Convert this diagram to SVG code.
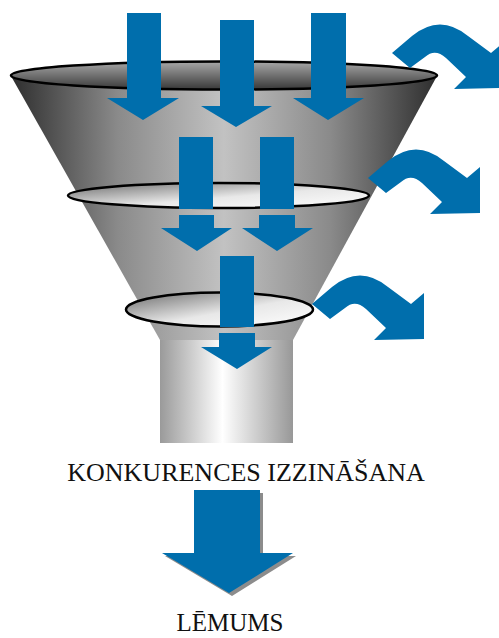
<svg xmlns="http://www.w3.org/2000/svg" width="499" height="638" viewBox="0 0 499 638">
  <style>
    .flow { fill: #006EAC; }
    .shadow { fill: #8c8c8c; }
    .rim { stroke: #000; stroke-width: 2.5; }
    .label { font-family: "Liberation Serif", "Times New Roman", serif; font-size: 26px; fill: #111; text-anchor: middle; }
  </style>
  <defs>
    <linearGradient id="coneGrad" x1="0" y1="0" x2="1" y2="0">
      <stop offset="0" stop-color="#2e2e2e"/>
      <stop offset="0.25" stop-color="#8a8a8a"/>
      <stop offset="0.5" stop-color="#c2c2c2"/>
      <stop offset="0.75" stop-color="#8a8a8a"/>
      <stop offset="1" stop-color="#2e2e2e"/>
    </linearGradient>
    <linearGradient id="topRimGrad" x1="0" y1="0" x2="0" y2="1">
      <stop offset="0" stop-color="#a8a8a8"/>
      <stop offset="1" stop-color="#383838"/>
    </linearGradient>
    <linearGradient id="ringGrad" x1="0" y1="0" x2="1" y2="1">
      <stop offset="0" stop-color="#6a6a6a"/>
      <stop offset="0.55" stop-color="#e8e8e8"/>
      <stop offset="1" stop-color="#ffffff"/>
    </linearGradient>
    <linearGradient id="tubeGrad" x1="0" y1="0" x2="1" y2="0">
      <stop offset="0" stop-color="#9a9a9a"/>
      <stop offset="0.47" stop-color="#ffffff"/>
      <stop offset="1" stop-color="#989898"/>
    </linearGradient>
    <!-- curved "rejected" arrow, origin at its upper-left tail corner -->
    <path id="bendArrow" d="M0,0 L20,-17 Q48,-40 76,-17 L99,0 L112,-11 L112,35 L62,36 L74,24 L54,5 Q43,-5 33,4 L18,15 Z"/>
  </defs>

  <g id="funnel">
    <path d="M11,76 L437,76 L293,340 L160,340 Z" fill="url(#coneGrad)"/>
    <rect x="160" y="340" width="133" height="103" fill="url(#tubeGrad)"/>
    <ellipse class="rim" cx="224" cy="75.5" rx="213" ry="14" fill="url(#topRimGrad)"/>
    <ellipse class="rim" cx="218.5" cy="195.5" rx="150.5" ry="12.5" fill="url(#ringGrad)"/>
    <ellipse class="rim" cx="219.5" cy="309.5" rx="93.5" ry="17" fill="url(#ringGrad)"/>
  </g>

  <g id="connectors">
    <!-- inflow through the mouth -->
    <path class="flow" d="M127,13 H161 V98 H179 L143,120 L107,98 H127 Z"/>
    <path class="flow" d="M220,20 H254 V106 H272 L236,127 L201,106 H220 Z"/>
    <path class="flow" d="M311,13 H346 V98 H364 L328,120 L293,98 H311 Z"/>
    <!-- second stage -->
    <rect class="flow" x="179" y="137" width="34" height="72"/>
    <rect class="flow" x="260" y="137" width="34" height="72"/>
    <path class="flow" d="M179,215 H214 V228 H232 L197,251 L161,228 H179 Z"/>
    <path class="flow" d="M259,215 H295 V228 H313 L277,251 L242,228 H259 Z"/>
    <!-- third stage -->
    <rect class="flow" x="220" y="256" width="34" height="71"/>
    <path class="flow" d="M219,333 H255 V347 H272 L237,369 L201,347 H219 Z"/>
    <!-- outflow to decision -->
    <path class="shadow" d="M197,493 H263 V556 H296 L232,596 L165,556 H197 Z"/>
    <path class="flow" d="M194,490 H260 V553 H293 L229,593 L162,553 H194 Z"/>
    <!-- rejected streams -->
    <use class="flow" href="#bendArrow" transform="translate(392,53)"/>
    <use class="flow" href="#bendArrow" transform="translate(368,178)"/>
    <use class="flow" href="#bendArrow" transform="translate(312,304)"/>
  </g>

  <g id="label-analysis">
    <text class="label" x="246" y="481">KONKURENCES IZZINĀŠANA</text>
  </g>
  <g id="label-decision">
    <text class="label" x="230" y="631" style="font-size:25px">LĒMUMS</text>
  </g>
</svg>
